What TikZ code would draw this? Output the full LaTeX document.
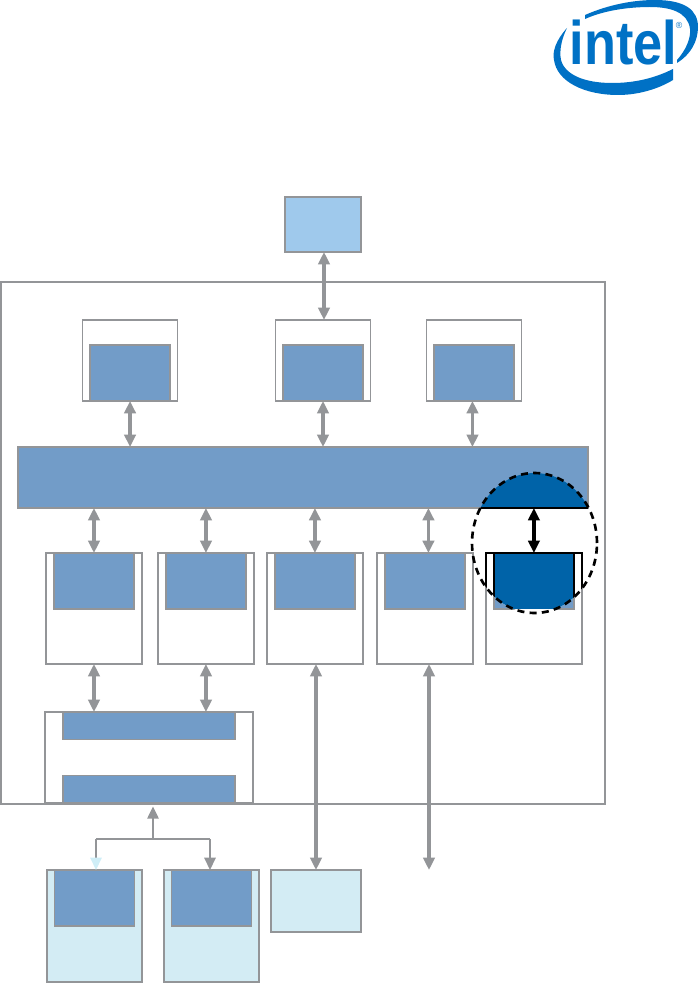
\documentclass[tikz,border=0pt]{standalone}
\usepackage{fontspec}
\setmainfont{Liberation Sans}
\usepackage{xcolor}
\usepackage{tikz}
\usetikzlibrary{shapes.geometric, arrows.meta, positioning, calc}
\definecolor{mygrey}{RGB}{147,149,152}
\definecolor{myblue}{RGB}{114,156,200}
\definecolor{myfocus}{RGB}{0,99,168}
\definecolor{mysky}{RGB}{159,201,236}
\definecolor{mypale}{RGB}{211,236,244}
\definecolor{mytip}{RGB}{207,238,247}
\definecolor{mylogo}{RGB}{0,113,197}
\tikzset{
  boxframe/.style={rectangle, draw=mygrey, fill=white, inner sep=0pt, outer sep=0pt, line width=0.7pt},
  hostframe/.style={boxframe, minimum width=1.9cm, minimum height=1.62cm},
  portframe/.style={boxframe, minimum width=1.92cm, minimum height=2.22cm},
  coreblock/.style={boxframe, fill=myblue, minimum width=1.6cm, minimum height=1.12cm},
  barblock/.style={boxframe, fill=myblue, minimum width=3.44cm, minimum height=0.55cm},
  paleframe/.style={boxframe, fill=mypale, minimum width=1.9cm, minimum height=2.24cm},
  duplex/.style={{Triangle[width=6.4pt,length=7pt]}-{Triangle[width=6.4pt,length=7pt]}, color=mygrey, line width=1.8pt},
  duplexthick/.style={duplex, line width=2.2pt},
  treeline/.style={color=mygrey, line width=1.3pt},
  treearrow/.style={treeline, -{Triangle[width=6.4pt,length=7pt]}}
}
\begin{document}
\begin{tikzpicture}[x=0.02cm, y=-0.02cm]
  \useasboundingbox (0,0) rectangle (698,983);

  % Logo
  \fill[mylogo] (567,28) .. controls (556,40) and (552,52) .. (554,60)
    .. controls (557,82) and (585,95) .. (618,95)
    .. controls (640,95) and (660,88) .. (673,80) -- (673,69)
    .. controls (655,78) and (635,83) .. (612,83)
    .. controls (585,83) and (565,75) .. (561,60)
    .. controls (559,50) and (562,38) .. (567,28) -- cycle;
  \fill[mylogo] (585,15) .. controls (610,4) and (635,0) .. (655,0)
    .. controls (685,0) and (698,10) .. (698,27)
    .. controls (698,42) and (690,55) .. (677,63) -- (677,60)
    .. controls (686,50) and (691,38) .. (690,29)
    .. controls (688,12) and (670,7) .. (650,7)
    .. controls (630,7) and (605,10) .. (585,19) -- cycle;
  \node[text=mylogo, xscale=0.85, inner sep=0pt, font=\fontsize{35}{35}\selectfont\bfseries] (logotext) at (623.5,43) {intel};
  \node[text=mylogo, inner sep=0pt, font=\fontsize{5}{5}\selectfont] (logomark) at (679,25) {®};

  \node[boxframe, fill=mysky, minimum width=1.52cm, minimum height=1.1cm] (dram) at (323,224.5) {};
  \node[boxframe, minimum width=12.08cm, minimum height=10.44cm, anchor=north west] (soc) at (1,282) {};

  % Upper row
  \node[hostframe, below=1.36cm of dram] (host2) {};
  \node[hostframe, left=1.96cm of host2] (host1) {};
  \node[hostframe, right=1.12cm of host2] (host3) {};
  \node[coreblock, anchor=south] (core1) at (host1.south) {};
  \node[coreblock, anchor=south] (core2) at (host2.south) {};
  \node[coreblock, anchor=south] (core3) at (host3.south) {};

  \node[boxframe, fill=myblue, minimum width=11.4cm, minimum height=1.22cm, anchor=north west] (fabric) at (18,447) {};

  % Lower row
  \node[portframe, anchor=north west] (port1) at (46,553) {};
  \node[portframe, right=0.32cm of port1] (port2) {};
  \node[portframe, right=0.26cm of port2] (port3) {};
  \node[portframe, right=0.28cm of port3] (port4) {};
  \node[portframe, right=0.26cm of port4] (port5) {};
  \node[coreblock, anchor=north] (unit1) at (port1.north) {};
  \node[coreblock, anchor=north] (unit2) at (port2.north) {};
  \node[coreblock, anchor=north] (unit3) at (port3.north) {};
  \node[coreblock, anchor=north] (unit4) at (port4.north) {};
  \node[coreblock, anchor=north] (unit5) at (port5.north) {};

  \node[boxframe, minimum width=4.16cm, minimum height=1.82cm, anchor=north west] (hub) at (45,712) {};
  \node[barblock, anchor=north] (bar1) at (hub.north) {};
  \node[barblock, anchor=south] (bar2) at (hub.south) {};
  \draw[mygrey, line width=1.2pt] (hub.north west) -- (hub.north east);
  \draw[mygrey, line width=1.2pt] (hub.south west) -- (hub.south east);

  % Bottom row
  \node[paleframe, anchor=north west] (slot1) at (47,870) {};
  \node[paleframe, right=0.44cm of slot1] (slot2) {};
  \node[boxframe, fill=mypale, minimum width=1.8cm, minimum height=1.24cm, anchor=north west] (slot3) at (271,870) {};
  \node[coreblock, anchor=north] (card1) at (slot1.north) {};
  \node[coreblock, anchor=north] (card2) at (slot2.north) {};
  \coordinate (openend) at (429,870);
  \coordinate (treeleft) at (96,839);
  \coordinate (treeright) at (210,839);
  \coordinate (treemid) at (153,839);

  % Connections
  \draw[duplexthick] ([xshift=0.02cm]dram.south) -- ([xshift=0.02cm]dram.south |- host2.north);
  \draw[duplex] (host1.south) -- (host1.south |- fabric.north);
  \draw[duplex] (host2.south) -- (host2.south |- fabric.north);
  \draw[duplex] ([xshift=-0.03cm]host3.south) -- ([xshift=-0.03cm]host3.south |- fabric.north);
  \draw[duplex] (port1.north |- fabric.south) -- (port1.north);
  \draw[duplex] (port2.north |- fabric.south) -- (port2.north);
  \draw[duplex] (port3.north |- fabric.south) -- (port3.north);
  \draw[duplex] ([xshift=0.07cm]port4.north |- fabric.south) -- ([xshift=0.07cm]port4.north);
  \draw[duplex] (port1.south) -- (port1.south |- hub.north);
  \draw[duplexthick] (port2.south) -- (port2.south |- hub.north);
  \draw[duplexthick] (port3.south -| slot3.north) -- (slot3.north);
  \draw[duplexthick] (port4.south -| openend) -- (openend);

  % Tree below the hub
  \draw[treeline] (treeleft) -- (treeright);
  \draw[treearrow] (treemid) -- ([yshift=-0.05cm]treemid |- soc.south);
  \draw[treeline, -{Triangle[width=6.4pt,length=7pt,color=mytip]}] (treeleft) -- (treeleft |- slot1.north);
  \draw[treearrow] (treeright) -- (treeright |- slot2.north);

  % Highlighted path
  \coordinate (focus) at (534.5,543);
  \begin{scope}
    \clip (focus) ellipse [x radius=1.25cm, y radius=1.4cm];
    \fill[myfocus] (fabric.north west) rectangle (fabric.south east);
    \draw[black, line width=0.8pt] (fabric.south west) -- (fabric.south east);
    \fill[white] (port5.north west) rectangle (port5.south east);
    \draw[black, line width=0.8pt] (port5.north west) rectangle (port5.south east);
    \fill[myfocus] (unit5.north west) rectangle (unit5.south east);
    \draw[black, line width=0.8pt] (unit5.south west) -- (unit5.north west) -- (unit5.north east) -- (unit5.south east);
  \end{scope}
  \draw[black, line width=2.6pt, {Triangle[width=6.4pt,length=7pt]}-{Triangle[width=6.4pt,length=7pt]}] (port5.north |- fabric.south) -- (port5.north);
  \node[ellipse, draw=black, dashed, dash pattern=on 4pt off 3pt, line width=1.5pt, inner sep=0pt, minimum width=2.5cm, minimum height=2.8cm] (focusring) at (focus) {};
\end{tikzpicture}
\end{document}
